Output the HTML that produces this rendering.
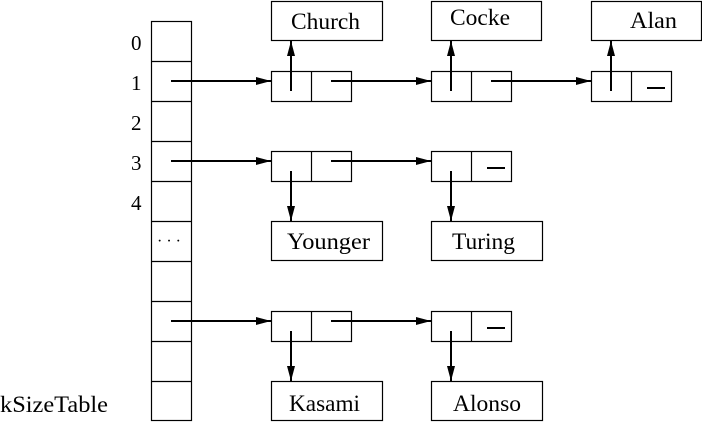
<!DOCTYPE html>
<html><head><style>body{margin:0;background:#fff}svg{display:block}</style></head><body>
<svg width="702" height="422" viewBox="0 0 702 422" xmlns="http://www.w3.org/2000/svg" style="font-family:'Liberation Serif',serif" font-size="23">
<defs><marker id="a" markerWidth="16" markerHeight="10" refX="15" refY="5" orient="auto" markerUnits="userSpaceOnUse"><path d="M0,1 L15,5 L0,9 z" fill="#000"/></marker></defs>
<g fill="none" stroke="#000" stroke-width="1.2">
<rect x="151.5" y="21.5" width="40" height="399"/>
<path d="M151.5 61.5h40M151.5 101.5h40M151.5 141.5h40M151.5 181.5h40M151.5 221.5h40M151.5 261.5h40M151.5 301.5h40M151.5 341.5h40M151.5 381.5h40"/>
<rect x="271.5" y="1.5" width="111" height="39"/>
<rect x="431.5" y="1.5" width="110" height="39"/>
<rect x="591.5" y="1.5" width="110" height="39"/>
<rect x="271.5" y="221.5" width="111" height="39"/>
<rect x="431.5" y="221.5" width="111" height="39"/>
<rect x="271.5" y="381.5" width="111" height="39"/>
<rect x="431.5" y="381.5" width="111" height="39"/>
<rect x="271.5" y="71.5" width="80" height="30"/><path d="M311.5 71.5v30"/>
<rect x="431.5" y="71.5" width="80" height="30"/><path d="M471.5 71.5v30"/>
<rect x="591.5" y="71.5" width="80" height="30"/><path d="M631.5 71.5v30"/>
<rect x="271.5" y="151.5" width="80" height="30"/><path d="M311.5 151.5v30"/>
<rect x="431.5" y="151.5" width="80" height="30"/><path d="M471.5 151.5v30"/>
<rect x="271.5" y="311.5" width="80" height="30"/><path d="M311.5 311.5v30"/>
<rect x="431.5" y="311.5" width="80" height="30"/><path d="M471.5 311.5v30"/>
</g>
<g stroke="#000" stroke-width="2" marker-end="url(#a)">
<path d="M171 81H271"/><path d="M331 81H431"/><path d="M491 81H591"/>
<path d="M171 161H271"/><path d="M331 161H431"/>
<path d="M171 321H271"/><path d="M331 321H431"/>
<path d="M291 91V41"/><path d="M451 91V41"/><path d="M611 91V41"/>
<path d="M291 171V221"/><path d="M451 171V221"/>
<path d="M291 331V381"/><path d="M451 331V381"/>
</g>
<g stroke="#000" stroke-width="2"><path d="M647 88h18M487 168h18M487 328h18"/></g>
<g fill="#000">
<text x="291" y="29" textLength="69" lengthAdjust="spacingAndGlyphs">Church</text>
<text x="450" y="25" textLength="60" lengthAdjust="spacingAndGlyphs">Cocke</text>
<text x="630" y="28" textLength="47" lengthAdjust="spacingAndGlyphs">Alan</text>
<text x="287" y="249" textLength="83" lengthAdjust="spacingAndGlyphs">Younger</text>
<text x="452" y="249" textLength="63" lengthAdjust="spacingAndGlyphs">Turing</text>
<text x="289" y="411" textLength="71" lengthAdjust="spacingAndGlyphs">Kasami</text>
<text x="453" y="411" textLength="68" lengthAdjust="spacingAndGlyphs">Alonso</text>
<g font-size="21"><text x="131" y="50">0</text><text x="131" y="90">1</text><text x="131" y="130">2</text><text x="131" y="170">3</text><text x="131" y="210">4</text></g>
<text x="157" y="246" font-size="16">· · ·</text>
<text x="0" y="412" textLength="108" lengthAdjust="spacingAndGlyphs">kSizeTable</text>
</g>
</svg>
</body></html>
